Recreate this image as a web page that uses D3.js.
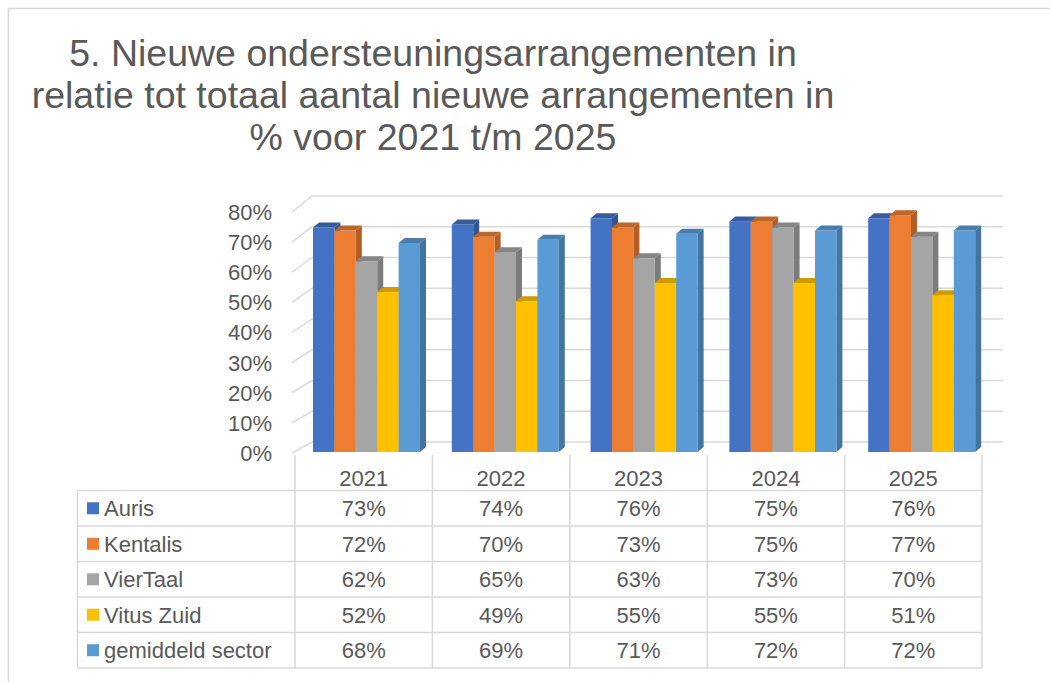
<!DOCTYPE html>
<html>
<head>
<meta charset="utf-8">
<script src="https://cdn.jsdelivr.net/npm/d3@7"></script>
<style>
  body { margin: 0; background: #fff; }
  text { font-family: "Liberation Sans", Arial, sans-serif; fill: #595959; }
</style>
</head>
<body>
<div id="container"></div>
<script>
// data
const years = ["2021", "2022", "2023", "2024", "2025"];
const seriesNames = ["Auris", "Kentalis", "VierTaal", "Vitus Zuid", "gemiddeld sector"];
const auris = [0.73, 0.74, 0.76, 0.75, 0.76];
const kentalis = [0.72, 0.70, 0.73, 0.75, 0.77];
const vierTaal = [0.62, 0.65, 0.63, 0.73, 0.70];
const vitusZuid = [0.52, 0.49, 0.55, 0.55, 0.51];
const gemiddeld = [0.68, 0.69, 0.71, 0.72, 0.72];
const yTicks = [0, 0.1, 0.2, 0.3, 0.4, 0.5, 0.6, 0.7, 0.8];
const titleLines = [
  "5. Nieuwe ondersteuningsarrangementen in",
  "relatie tot totaal aantal nieuwe arrangementen in",
  "% voor 2021 t/m 2025"
];

const seriesValues = [auris, kentalis, vierTaal, vitusZuid, gemiddeld];
const colours = ["#4472C4", "#ED7D31", "#A5A5A5", "#FFC000", "#5B9BD5"];

const width = 1050;
const height = 682;
const gridColour = "#d9d9d9";
const fontSize = "22px";

const svg = d3.select("#container")
  .append("svg")
  .attr("width", width)
  .attr("height", height);

// outer chart border (runs off the picture right and bottom)
svg.append("path")
  .attr("d", "M8.5," + height + "V8.5H" + width)
  .attr("fill", "none")
  .attr("stroke", gridColour)
  .attr("stroke-width", 1.5);

// title
svg.append("g")
  .selectAll("text")
  .data(titleLines)
  .enter()
  .append("text")
  .attr("x", 433)
  .attr("y", function(d, i) { return 66 + i * 42; })
  .attr("text-anchor", "middle")
  .style("font-size", "37.5px")
  .text(function(d) { return d; });

// scales: front edge of the side wall, back wall, bar fronts
const yFront = d3.scaleLinear().domain([0, 0.8]).range([453, 212]);
const yBack = d3.scaleLinear().domain([0, 0.8]).range([442, 196]);
const yBar = d3.scaleLinear().domain([0, 0.8]).range([452, 206]);

const xTable = d3.scaleBand().domain(years).range([295, 982]);
const xGroup = d3.scaleBand().domain(years).range([297.2, 991])
  .paddingInner(0.229).paddingOuter(0.114);
const xSeries = d3.scaleBand().domain(seriesNames).range([0, xGroup.bandwidth()]);

const depthX = 6;
const depthY = 5;
const wallFront = 292;
const wallBack = 312;
const wallRight = 1003;

// gridlines: diagonal on the side wall then across the back wall
const grid = svg.append("g");
grid.selectAll("path")
  .data(yTicks)
  .enter()
  .append("path")
  .attr("d", function(d) {
    return "M" + wallFront + "," + yFront(d) + "L" + wallBack + "," + yBack(d) + "H" + wallRight;
  })
  .attr("fill", "none")
  .attr("stroke", gridColour)
  .attr("stroke-width", 1.5);

// y axis labels
svg.append("g")
  .selectAll("text")
  .data(yTicks)
  .enter()
  .append("text")
  .attr("x", 272)
  .attr("y", function(d) { return yFront(d); })
  .attr("dy", "0.36em")
  .attr("text-anchor", "end")
  .style("font-size", fontSize)
  .text(d3.format(".0%"));

// 3D bars
const bars = svg.append("g");
years.forEach(function(year, yi) {
  seriesNames.forEach(function(name, si) {
    const v = seriesValues[si][yi];
    const x0 = xGroup(year) + xSeries(name);
    const x1 = x0 + xSeries.bandwidth();
    const yt = yBar(v);
    const yb = yBar(0);
    const base = d3.color(colours[si]);

    // right side
    bars.append("path")
      .attr("d", "M" + x1 + "," + yt + "L" + (x1 + depthX) + "," + (yt - depthY) +
        "V" + (yb - depthY) + "L" + x1 + "," + yb + "Z")
      .attr("fill", base.darker(0.8));

    // front face
    bars.append("rect")
      .attr("x", x0)
      .attr("y", yt)
      .attr("width", x1 - x0)
      .attr("height", yb - yt)
      .attr("fill", base);

    // top
    bars.append("path")
      .attr("d", "M" + x0 + "," + yt + "L" + (x0 + depthX) + "," + (yt - depthY) +
        "H" + (x1 + depthX) + "L" + x1 + "," + yt + "Z")
      .attr("fill", base.darker(0.6));
  });
});

// data table below the chart
const table = svg.append("g");
const rowTop = 490.5;
const rowH = 35.5;
const tableLeft = 77.5;
const tableRight = xTable.range()[1];
const rowsBottom = rowTop + rowH * seriesNames.length;

// horizontal lines
d3.range(seriesNames.length + 1).forEach(function(i) {
  table.append("line")
    .attr("x1", tableLeft).attr("x2", tableRight)
    .attr("y1", rowTop + i * rowH).attr("y2", rowTop + i * rowH)
    .attr("stroke", gridColour).attr("stroke-width", 1.5);
});

// vertical lines: year columns start at the floor, legend column at the first row
years.concat(["end"]).forEach(function(y, i) {
  const x = i < years.length ? xTable(y) : tableRight;
  table.append("line")
    .attr("x1", x).attr("x2", x)
    .attr("y1", 455).attr("y2", rowsBottom)
    .attr("stroke", gridColour).attr("stroke-width", 1.5);
});
table.append("line")
  .attr("x1", tableLeft).attr("x2", tableLeft)
  .attr("y1", rowTop).attr("y2", rowsBottom)
  .attr("stroke", gridColour).attr("stroke-width", 1.5);

// year headers
table.selectAll(".year")
  .data(years)
  .enter()
  .append("text")
  .attr("class", "year")
  .attr("x", function(d) { return xTable(d) + xTable.bandwidth() / 2; })
  .attr("y", 486)
  .attr("text-anchor", "middle")
  .style("font-size", fontSize)
  .text(function(d) { return d; });

// rows: legend key, name, values
seriesNames.forEach(function(name, si) {
  const cy = rowTop + si * rowH + rowH / 2;

  table.append("rect")
    .attr("x", 87)
    .attr("y", cy - 6)
    .attr("width", 12)
    .attr("height", 12)
    .attr("fill", colours[si]);

  table.append("text")
    .attr("x", 104)
    .attr("y", cy)
    .attr("dy", "0.36em")
    .style("font-size", fontSize)
    .text(name);

  years.forEach(function(year, yi) {
    table.append("text")
      .attr("x", xTable(year) + xTable.bandwidth() / 2)
      .attr("y", cy)
      .attr("dy", "0.36em")
      .attr("text-anchor", "middle")
      .style("font-size", fontSize)
      .text(d3.format(".0%")(seriesValues[si][yi]));
  });
});
</script>
</body>
</html>
